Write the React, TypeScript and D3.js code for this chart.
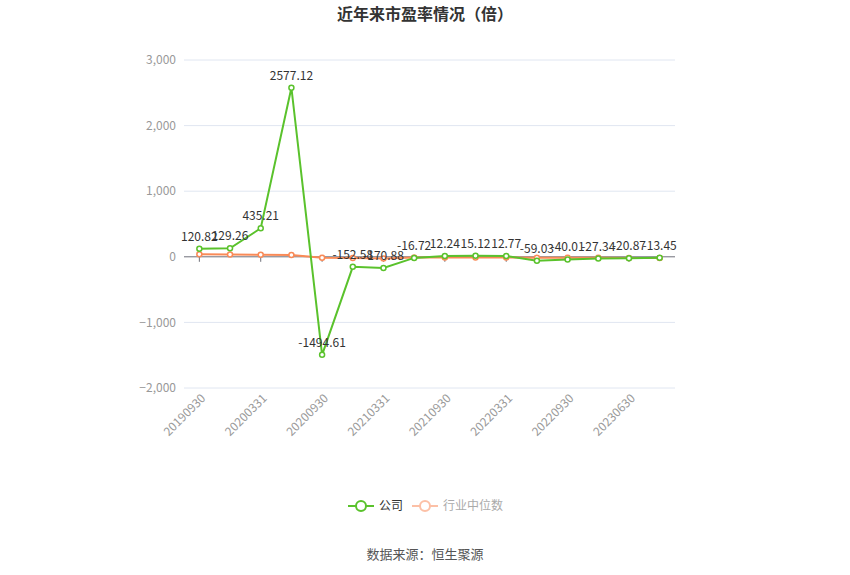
import React from "react";
import * as d3 from "d3";

const categories = [
  "20190930", "20191231", "20200331", "20200630", "20200930", "20201231",
  "20210331", "20210630", "20210930", "20211231", "20220331", "20220630",
  "20220930", "20230331", "20230630", "20230930",
];
const companyPE = [
  120.82, 129.26, 435.21, 2577.12, -1494.61, -152.58, -170.88, -16.72,
  12.24, 15.12, 12.77, -59.03, -40.01, -27.34, -20.87, -13.45,
];
const industryPE = [
  40, 36, 30, 28, -15, -18, -25, -10, -10, -12, -12, -14, -15, -16, -17, -18,
];
const yTicks = [-2000, -1000, 0, 1000, 2000, 3000];

const GREEN = "#5ac22c";
const ORANGE = "#f98a57";
const FONT = "'Noto Sans CJK SC', 'Noto Sans', sans-serif";

export default function App() {
  const width = 850;
  const height = 575;
  const left = 184;
  const right = 675;
  const top = 60;
  const bottom = 388;

  const x = d3.scalePoint<string>().domain(categories).range([left, right]).padding(0.5);
  const y = d3.scaleLinear().domain([-2000, 3000]).range([bottom, top]);
  const fmt = d3.format(",");

  const line = d3
    .line<number>()
    .x((_, i) => x(categories[i]) as number)
    .y((d) => y(d));

  const series = [
    { name: "industry", values: industryPE, color: ORANGE },
    { name: "company", values: companyPE, color: GREEN },
  ];

  return (
    <div style={{ position: "fixed", left: 0, top: 0 }}>
      <svg width={width} height={height} style={{ fontFamily: FONT, display: "block" }}>
        <rect width={width} height={height} fill="#fff" />
        <text x={425} y={20} textAnchor="middle" fontSize={16} fontWeight="bold" fill="#333">
          近年来市盈率情况（倍）
        </text>

        {yTicks.map((t) => (
          <g key={t}>
            {t !== 0 && (
              <line x1={left} x2={right} y1={y(t)} y2={y(t)} stroke="#e0e6f1" strokeWidth={1} />
            )}
            <text x={176} y={y(t)} dy="0.35em" textAnchor="end" fontSize={12} fill="#999">
              {fmt(t)}
            </text>
          </g>
        ))}

        <line x1={left} x2={right} y1={y(0)} y2={y(0)} stroke="#6e7079" strokeWidth={1} />
        {categories.map((c, i) =>
          i % 2 === 0 ? (
            <g key={c}>
              <line x1={x(c)} x2={x(c)} y1={y(0)} y2={y(0) + 5} stroke="#6e7079" />
              <text
                transform={`translate(${(x(c) as number) + 4},${bottom + 8}) rotate(-45)`}
                textAnchor="end"
                dy="0.35em"
                fontSize={12}
                fill="#999"
              >
                {c}
              </text>
            </g>
          ) : null
        )}

        {series.map((s) => (
          <g key={s.name}>
            <path d={line(s.values) as string} fill="none" stroke={s.color} strokeWidth={2} />
            {s.values.map((v, i) => (
              <circle
                key={i}
                cx={x(categories[i])}
                cy={y(v)}
                r={2.5}
                fill="#fff"
                stroke={s.color}
                strokeWidth={1.5}
              />
            ))}
          </g>
        ))}

        {companyPE.map((v, i) => (
          <text
            key={i}
            x={x(categories[i])}
            y={y(v) - 8}
            textAnchor="middle"
            fontSize={12}
            fill="#333"
          >
            {v.toFixed(2)}
          </text>
        ))}

        <g>
          <line x1={348} x2={374} y1={506} y2={506} stroke={GREEN} strokeWidth={2} />
          <circle cx={361} cy={506} r={5} fill="#fff" stroke={GREEN} strokeWidth={2} />
          <text x={379} y={506} dy="0.35em" fontSize={12} fill="#333">公司</text>
          <line x1={412} x2={438} y1={506} y2={506} stroke="#fcc0a6" strokeWidth={2} />
          <circle cx={425} cy={506} r={5} fill="#fff" stroke="#fcc0a6" strokeWidth={2} />
          <text x={443} y={506} dy="0.35em" fontSize={12} fill="#aaa">行业中位数</text>
        </g>

        <text x={425} y={554} dy="0.35em" textAnchor="middle" fontSize={13} fill="#555">
          数据来源：恒生聚源
        </text>
      </svg>
    </div>
  );
}
